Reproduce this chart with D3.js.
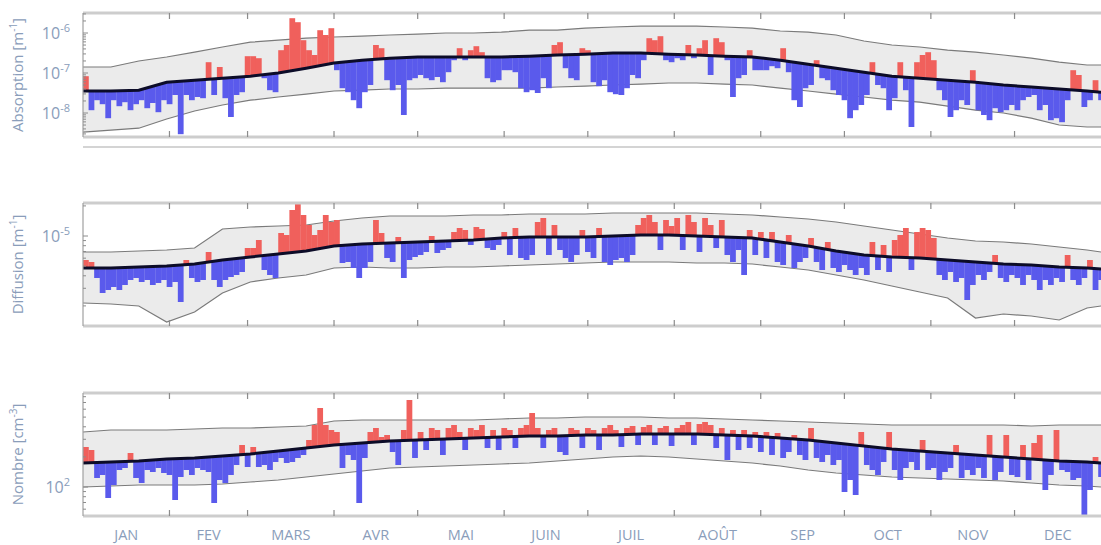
<!DOCTYPE html>
<html><head><meta charset="utf-8">
<script src="https://cdn.jsdelivr.net/npm/d3@7"></script>
<style>body{margin:0;background:#fff}svg{display:block}</style>
</head><body><svg id="c" width="1101" height="545"></svg>
<script>
// ---------- DATA ----------
const months = ["JAN","FEV","MARS","AVR","MAI","JUIN","JUIL","AOÛT","SEP","OCT","NOV","DEC"];
const monthStartDays = [0,31,59,90,120,151,181,212,243,273,304,334,365];
// day-of-year knots for the climatology curves (median + envelope)
const knotDays = [0,10,20,30,40,50,60,70,80,90,100,110,120,130,140,150,160,170,180,190,200,210,220,230,240,250,260,270,280,290,300,310,320,330,340,350,360,365];

// Absorption [m^-1], log10 values
const absMedianLog10 = [-7.45,-7.45,-7.43,-7.23,-7.18,-7.13,-7.08,-7.0,-6.88,-6.75,-6.68,-6.63,-6.6,-6.6,-6.6,-6.6,-6.58,-6.55,-6.53,-6.5,-6.5,-6.53,-6.55,-6.58,-6.6,-6.68,-6.78,-6.88,-6.98,-7.08,-7.13,-7.18,-7.23,-7.3,-7.35,-7.4,-7.45,-7.48];
const absUpperLog10 = [-6.85,-6.85,-6.7,-6.6,-6.48,-6.35,-6.23,-6.18,-6.13,-6.1,-6.08,-6.05,-6.03,-6.0,-6.0,-5.98,-5.93,-5.93,-5.88,-5.85,-5.83,-5.83,-5.83,-5.85,-5.88,-5.95,-5.98,-6.05,-6.2,-6.3,-6.35,-6.43,-6.48,-6.55,-6.63,-6.73,-6.8,-6.8];
const absLowerLog10 = [-8.48,-8.43,-8.38,-8.15,-7.95,-7.8,-7.68,-7.6,-7.53,-7.45,-7.43,-7.4,-7.4,-7.38,-7.38,-7.38,-7.38,-7.35,-7.33,-7.3,-7.28,-7.25,-7.25,-7.28,-7.3,-7.38,-7.45,-7.53,-7.6,-7.68,-7.73,-7.83,-7.93,-8.0,-8.13,-8.3,-8.35,-8.35];
// daily series, one value every 2 days (day 0,2,...,364)
const absLog10 = [
-7.08,-7.93,-7.68,-7.78,-8.13,-7.68,-7.83,-7.73,-7.93,-7.78,
-7.68,-7.88,-7.75,-7.98,-7.68,-7.78,-7.55,-8.53,-7.55,-7.68,
-7.6,-7.63,-6.73,-7.55,-6.85,-7.63,-8.1,-7.55,-7.48,-6.58,
-6.58,-6.63,-7.13,-7.43,-7.48,-6.43,-6.3,-5.63,-5.73,-6.18,
-6.43,-6.55,-5.93,-6.05,-5.88,-6.93,-7.38,-7.48,-7.68,-7.88,
-7.48,-7.3,-6.3,-6.38,-7.18,-7.43,-7.3,-8.05,-7.18,-7.13,
-7.05,-7.13,-7.18,-7.1,-7.23,-6.98,-6.68,-6.38,-6.68,-6.43,
-6.33,-6.48,-7.13,-7.23,-7.18,-6.93,-6.93,-6.98,-7.38,-7.48,
-7.43,-7.5,-7.13,-7.38,-6.3,-6.23,-6.88,-7.13,-7.18,-6.38,
-6.43,-7.23,-7.33,-7.18,-7.48,-7.53,-7.55,-7.38,-7.05,-7.13,
-6.68,-6.13,-6.18,-6.08,-6.68,-6.73,-6.63,-6.68,-6.3,-6.63,
-6.38,-6.18,-7.05,-6.13,-6.23,-6.68,-7.6,-7.13,-7.05,-6.43,
-6.93,-6.93,-6.93,-6.83,-6.88,-6.38,-6.98,-7.68,-7.85,-7.38,
-7.3,-6.68,-7.13,-7.18,-7.43,-7.55,-7.68,-8.13,-7.93,-7.8,
-7.55,-6.73,-7.3,-7.38,-7.93,-7.63,-6.73,-7.43,-8.35,-6.73,
-6.55,-6.48,-6.68,-7.43,-7.68,-8.1,-7.93,-7.68,-7.8,-6.93,
-7.93,-8.05,-8.18,-7.88,-7.98,-7.93,-7.8,-7.93,-7.68,-7.6,
-7.55,-7.93,-7.8,-8.18,-8.13,-8.23,-7.68,-6.93,-7.05,-7.85,
-7.68,-7.18,-7.68];

// Diffusion [m^-1], log10 values
const diffMedianLog10 = [-5.32,-5.32,-5.31,-5.3,-5.28,-5.24,-5.21,-5.18,-5.15,-5.1,-5.08,-5.07,-5.06,-5.05,-5.04,-5.02,-5.01,-5.01,-5.01,-5.0,-4.99,-4.99,-5.0,-5.01,-5.02,-5.06,-5.1,-5.15,-5.19,-5.21,-5.22,-5.24,-5.26,-5.28,-5.29,-5.31,-5.32,-5.33];
const diffUpperLog10 = [-5.16,-5.16,-5.15,-5.14,-5.12,-4.93,-4.91,-4.9,-4.89,-4.85,-4.82,-4.8,-4.8,-4.8,-4.79,-4.79,-4.78,-4.78,-4.78,-4.77,-4.77,-4.77,-4.77,-4.78,-4.79,-4.81,-4.83,-4.86,-4.9,-4.94,-4.98,-5.02,-5.05,-5.06,-5.08,-5.11,-5.14,-5.16];
const diffLowerLog10 = [-5.67,-5.68,-5.7,-5.86,-5.76,-5.57,-5.46,-5.42,-5.39,-5.32,-5.31,-5.32,-5.32,-5.31,-5.31,-5.3,-5.29,-5.28,-5.27,-5.26,-5.26,-5.26,-5.27,-5.27,-5.28,-5.31,-5.34,-5.39,-5.44,-5.5,-5.56,-5.62,-5.82,-5.78,-5.8,-5.84,-5.72,-5.7];
const diffLog10 = [
-5.24,-5.26,-5.42,-5.57,-5.54,-5.51,-5.54,-5.49,-5.44,-5.42,
-5.46,-5.44,-5.49,-5.47,-5.44,-5.51,-5.46,-5.66,-5.24,-5.42,
-5.46,-5.44,-5.16,-5.44,-5.51,-5.44,-5.41,-5.39,-5.36,-5.12,
-5.12,-5.04,-5.34,-5.39,-5.42,-4.97,-4.99,-4.74,-4.67,-4.79,
-4.89,-4.99,-4.94,-4.79,-4.86,-4.84,-5.27,-5.26,-5.32,-5.42,
-5.32,-5.26,-4.84,-4.97,-5.22,-5.26,-5.01,-5.42,-5.24,-5.21,
-5.19,-5.16,-5.0,-5.17,-5.14,-5.12,-4.96,-4.92,-4.94,-5.09,
-4.91,-4.93,-5.12,-5.14,-5.09,-4.96,-5.19,-4.92,-5.22,-5.24,
-5.19,-4.86,-4.82,-5.19,-4.89,-5.14,-5.22,-5.26,-5.19,-4.94,
-5.16,-5.22,-4.92,-5.26,-5.29,-5.24,-5.22,-5.26,-5.19,-4.89,
-4.82,-4.79,-4.86,-5.14,-4.84,-4.9,-4.82,-5.14,-4.79,-4.86,
-5.16,-4.82,-4.89,-5.12,-4.84,-5.19,-5.26,-5.14,-5.39,-4.94,
-5.19,-4.96,-5.22,-4.96,-5.26,-5.29,-4.99,-5.32,-5.26,-5.22,
-5.02,-5.26,-5.34,-5.06,-5.32,-5.36,-5.29,-5.34,-5.39,-5.32,
-5.39,-5.06,-5.34,-5.09,-5.36,-5.04,-4.99,-4.92,-5.34,-4.96,
-4.92,-4.94,-5.02,-5.39,-5.44,-5.36,-5.46,-5.42,-5.64,-5.49,
-5.39,-5.44,-5.36,-5.19,-5.42,-5.46,-5.39,-5.42,-5.49,-5.39,
-5.44,-5.54,-5.44,-5.49,-5.42,-5.46,-5.19,-5.44,-5.49,-5.42,
-5.24,-5.54,-5.44];

// Nombre [cm^-3], log10 values
const nbMedianLog10 = [2.24,2.25,2.26,2.28,2.29,2.31,2.33,2.36,2.39,2.42,2.44,2.46,2.47,2.48,2.49,2.5,2.51,2.51,2.52,2.52,2.53,2.53,2.53,2.52,2.51,2.49,2.47,2.44,2.41,2.38,2.36,2.34,2.32,2.3,2.28,2.26,2.25,2.24];
const nbUpperLog10 = [2.55,2.57,2.57,2.57,2.58,2.59,2.59,2.6,2.61,2.66,2.67,2.67,2.67,2.67,2.67,2.68,2.69,2.69,2.7,2.7,2.7,2.69,2.69,2.68,2.67,2.66,2.65,2.64,2.63,2.62,2.62,2.62,2.62,2.62,2.61,2.62,2.62,2.62];
const nbLowerLog10 = [2.0,2.01,2.02,2.02,2.02,2.03,2.05,2.07,2.1,2.13,2.16,2.19,2.2,2.21,2.22,2.23,2.24,2.26,2.28,2.3,2.31,2.3,2.28,2.26,2.24,2.21,2.17,2.14,2.12,2.1,2.09,2.08,2.07,2.06,2.04,2.02,2.01,2.0];
const nbLog10 = [
2.4,2.37,2.09,2.12,1.89,2.02,2.17,2.19,2.34,2.09,
2.04,2.17,2.15,2.19,2.14,2.12,1.87,2.1,2.17,2.12,
2.19,2.17,2.15,1.84,2.07,2.04,2.12,2.22,2.42,2.2,
2.4,2.2,2.22,2.17,2.25,2.29,2.24,2.25,2.29,2.32,
2.47,2.62,2.79,2.62,2.57,2.55,2.19,2.32,2.27,1.84,
2.29,2.55,2.59,2.5,2.52,2.35,2.22,2.57,2.87,2.29,
2.55,2.37,2.59,2.57,2.32,2.59,2.62,2.55,2.37,2.59,
2.57,2.62,2.39,2.57,2.37,2.59,2.57,2.39,2.59,2.62,
2.74,2.59,2.39,2.57,2.59,2.35,2.32,2.59,2.57,2.39,
2.59,2.57,2.37,2.59,2.62,2.57,2.4,2.59,2.61,2.42,
2.6,2.62,2.42,2.59,2.61,2.41,2.59,2.62,2.65,2.42,
2.63,2.65,2.62,2.39,2.59,2.27,2.57,2.37,2.57,2.39,
2.55,2.35,2.55,2.32,2.54,2.29,2.35,2.52,2.32,2.27,
2.59,2.29,2.25,2.32,2.22,2.27,1.95,2.07,1.92,2.55,
2.22,2.17,2.12,2.25,2.55,2.17,2.07,2.19,2.25,2.17,
2.47,2.17,2.19,2.07,2.15,2.19,2.42,2.09,2.17,2.12,
2.19,2.09,2.52,2.07,2.15,2.52,2.12,2.1,2.42,2.07,
2.44,2.52,1.97,2.12,2.57,2.17,2.15,2.07,2.09,1.72,
1.97,2.3,2.1];

const absTickExp = [-6,-7,-8];
const diffTickExp = [-5];
const nbTickExp = [2];
const absTitle = ["Absorption [m","-1","]"];
const diffTitle = ["Diffusion [m","-1","]"];
const nbTitle = ["Nombre [cm","-3","]"];

// ---------- DRAW ----------
const svg = d3.select("#c");
const TXT = "#8a9dba";
const FONT = "'Open Sans', 'Noto Sans', sans-serif";
const x = d3.scaleLinear().domain([0,365]).range([83,1101]);
const barDays = d3.range(0,365,2);
const pow = v => Math.pow(10,v);

const panels = [
  {top:13, bottom:137, dom:[-8.6,-5.5], med:absMedianLog10, up:absUpperLog10, lo:absLowerLog10, vals:absLog10, ticks:absTickExp, title:absTitle, extraAxis:147},
  {top:203, bottom:326, dom:[-5.9,-4.67], med:diffMedianLog10, up:diffUpperLog10, lo:diffLowerLog10, vals:diffLog10, ticks:diffTickExp, title:diffTitle},
  {top:393, bottom:516, dom:[1.71,2.94], med:nbMedianLog10, up:nbUpperLog10, lo:nbLowerLog10, vals:nbLog10, ticks:nbTickExp, title:nbTitle}
];

const defs = svg.append("defs");
panels.forEach((p,i) => {
  const y = d3.scaleLog().domain([pow(p.dom[0]), pow(p.dom[1])]).range([p.bottom, p.top]);
  const cid = "clip"+i;
  defs.append("clipPath").attr("id",cid).append("rect")
    .attr("x",83).attr("y",p.top).attr("width",1101-83+5).attr("height",p.bottom-p.top);
  const g = svg.append("g");
  const plot = g.append("g").attr("clip-path",`url(#${cid})`);

  const area = d3.area()
    .x((d,j) => x(knotDays[j]))
    .y0((d,j) => y(pow(p.lo[j])))
    .y1(d => y(pow(d)));
  plot.append("path").datum(p.up).attr("d",area).attr("fill","#ebebeb");

  const line = d3.line().x((d,j) => x(knotDays[j])).y(d => y(pow(d)));
  [p.up, p.lo].forEach(arr => plot.append("path").datum(arr).attr("d",line)
    .attr("fill","none").attr("stroke","#7a7a7a").attr("stroke-width",1.2));

  const medAt = d3.scaleLinear().domain(knotDays).range(p.med);
  const bars = barDays.map((d,j) => ({d, v:p.vals[j], m:medAt(d+1)}));
  plot.selectAll("rect.bar").data(bars).join("rect").attr("class","bar")
    .attr("x", b => x(b.d))
    .attr("width", b => x(b.d+2)-x(b.d)+0.2)
    .attr("y", b => Math.min(y(pow(b.v)), y(pow(b.m))))
    .attr("height", b => Math.abs(y(pow(b.v)) - y(pow(b.m))))
    .attr("fill", b => b.v > b.m ? "#f0605c" : "#5a5aec");

  plot.append("path").datum(p.med).attr("d",line)
    .attr("fill","none").attr("stroke","#0c0c28").attr("stroke-width",3);

  // frame
  g.append("line").attr("x1",83).attr("x2",1101).attr("y1",p.top).attr("y2",p.top)
    .attr("stroke","#cdcdcd").attr("stroke-width",3);
  g.append("line").attr("x1",83).attr("x2",1101).attr("y1",p.bottom).attr("y2",p.bottom)
    .attr("stroke","#cdcdcd").attr("stroke-width",3);
  g.append("line").attr("x1",83).attr("x2",83).attr("y1",p.top).attr("y2",p.bottom)
    .attr("stroke","#a0a0a0").attr("stroke-width",1.2);
  if (p.extraAxis) g.append("line").attr("x1",83).attr("x2",1101).attr("y1",p.extraAxis).attr("y2",p.extraAxis)
    .attr("stroke","#d4d4d4").attr("stroke-width",2);

  // month ticks
  monthStartDays.slice(1,12).forEach(m => {
    g.append("line").attr("x1",x(m)).attr("x2",x(m)).attr("y1",p.top).attr("y2",p.top+6)
      .attr("stroke","#8c8c8c").attr("stroke-width",1.2);
    g.append("line").attr("x1",x(m)).attr("x2",x(m)).attr("y1",p.bottom-6).attr("y2",p.bottom)
      .attr("stroke","#8c8c8c").attr("stroke-width",1.2);
  });

  // log ticks
  const e0 = Math.floor(p.dom[0]), e1 = Math.ceil(p.dom[1]);
  for (let e=e0; e<=e1; e++) for (let k=1; k<10; k++) {
    const v = k*pow(e);
    if (v < pow(p.dom[0]) || v > pow(p.dom[1])) continue;
    const yy = y(v);
    g.append("line").attr("x1",83).attr("x2",83+(k===1?5:3)).attr("y1",yy).attr("y2",yy)
      .attr("stroke","#8c8c8c").attr("stroke-width",1);
  }
  p.ticks.forEach(e => {
    const t = g.append("text").attr("x",70).attr("y",y(pow(e))+6)
      .attr("text-anchor","end").attr("fill",TXT)
      .style("font-family",FONT).style("font-size","16px");
    t.append("tspan").text("10");
    t.append("tspan").attr("dy",-7).style("font-size","11px").text(String(e));
  });

  // title
  const cy = (p.top+p.bottom)/2;
  const tt = g.append("text").attr("transform",`translate(23,${cy}) rotate(-90)`)
    .attr("text-anchor","middle").attr("fill",TXT)
    .style("font-family",FONT).style("font-size","15px");
  tt.append("tspan").text(p.title[0]);
  tt.append("tspan").attr("dy",-6).style("font-size","10px").text(p.title[1]);
  tt.append("tspan").attr("dy",6).text(p.title[2]);
});

// month labels
svg.append("g").selectAll("text").data(months).join("text")
  .attr("x",(m,i) => x((monthStartDays[i]+monthStartDays[i+1])/2))
  .attr("y",540).attr("text-anchor","middle").attr("fill",TXT)
  .style("font-family",FONT).style("font-size","14.5px").text(m => m);
</script></body></html>
